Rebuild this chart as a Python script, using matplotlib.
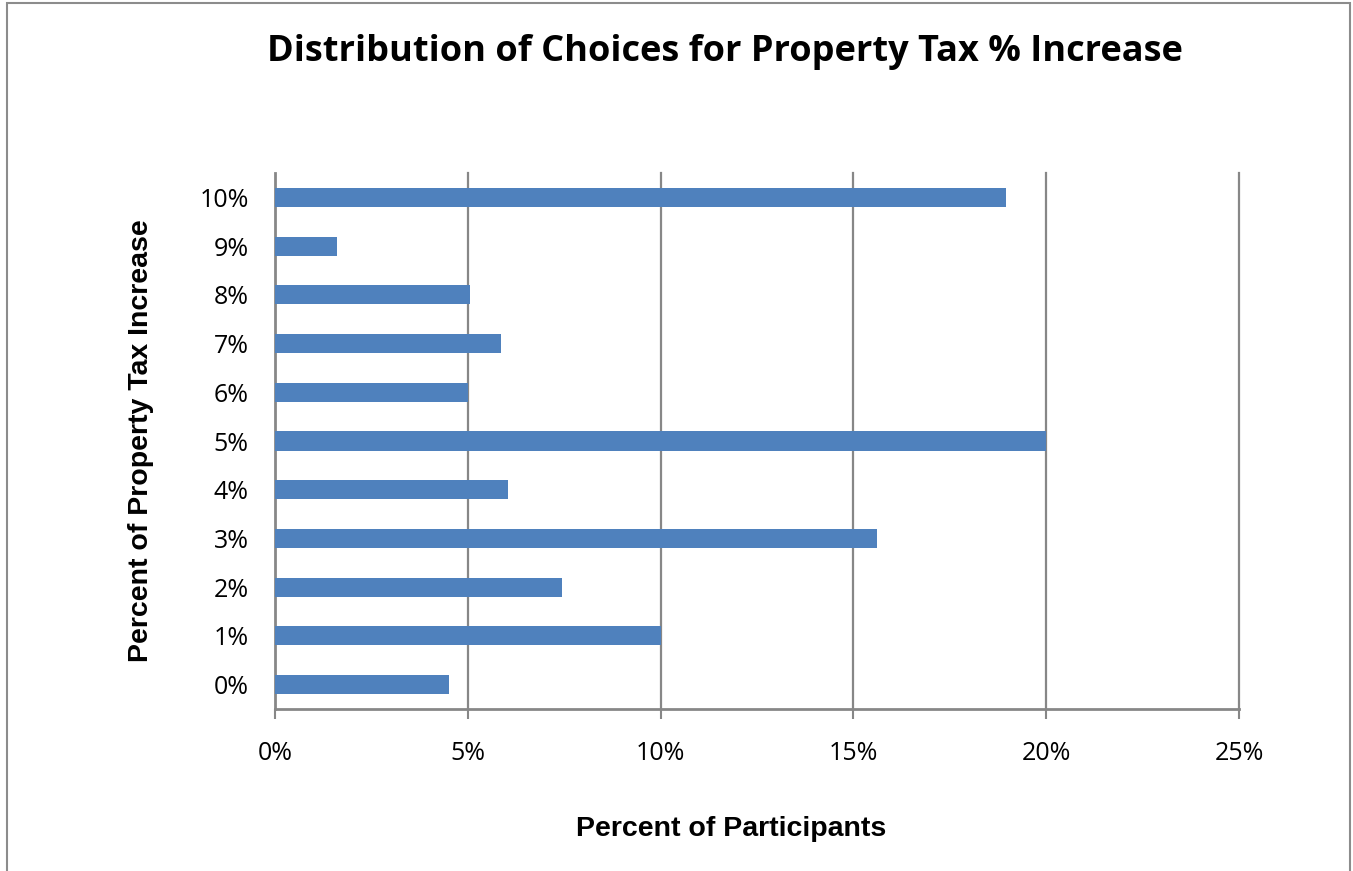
import matplotlib
matplotlib.use("Agg")
import matplotlib.pyplot as plt
from matplotlib.patches import Rectangle

categories = ["0%", "1%", "2%", "3%", "4%", "5%", "6%", "7%", "8%", "9%", "10%"]
values = [4.5, 10.0, 7.45, 15.6, 6.05, 20.0, 5.0, 5.85, 5.05, 1.6, 18.95]
xticks = [0, 5, 10, 15, 20, 25]
xticklabels = ["0%", "5%", "10%", "15%", "20%", "25%"]

W, H = 1353, 871
fig = plt.figure(figsize=(W / 100, H / 100), dpi=100)
fig.patch.set_facecolor("white")

# outer chart border
fig.add_artist(Rectangle((7 / W, -0.01), (1350 - 7) / W, 1.01 - 3 / H,
                         transform=fig.transFigure, fill=False,
                         edgecolor="#8c8c8c", linewidth=1.5))

ax = fig.add_axes([275 / W, 1 - 709 / H, (1239 - 275) / W, (709 - 173) / H])
grid_c = "#878787"
ax.barh(range(len(categories)), values, height=0.39, color="#4F81BD", zorder=3)
ax.set_xlim(0, 25)
ax.set_ylim(-0.5, len(categories) - 0.5)
ax.set_xticks(xticks)
ax.set_xticklabels(xticklabels, fontsize=18, family=["Open Sans", "DejaVu Sans"])
ax.set_yticks(range(len(categories)))
ax.set_yticklabels(categories, fontsize=18, family=["Open Sans", "DejaVu Sans"])
for xv in xticks[1:]:
    ax.axvline(xv, color=grid_c, linewidth=1.6, zorder=0, clip_on=False)
for s in ["top", "right"]:
    ax.spines[s].set_visible(False)
for s in ["left", "bottom"]:
    ax.spines[s].set_color(grid_c)
    ax.spines[s].set_linewidth(2)
ax.tick_params(axis="x", length=7, width=1.5, color=grid_c, pad=16)
ax.tick_params(axis="y", length=0, pad=19)

ax.set_xlabel("Percent of Participants", fontsize=20.5, fontweight="bold",
              family="Liberation Sans")
ax.xaxis.set_label_coords((731 - 275) / (1239 - 275), -0.2)
ax.set_ylabel("Percent of Property Tax Increase", fontsize=20.5, fontweight="bold",
              family="Liberation Sans")
ax.yaxis.set_label_coords(-(275 - 154) / (1239 - 275), 0.5)

fig.text(725 / W, 1 - 52 / H, "Distribution of Choices for Property Tax % Increase",
         ha="center", va="center", fontsize=26, fontweight="bold",
         family=["Open Sans", "DejaVu Sans"])

fig.savefig("out.png", dpi=100)
